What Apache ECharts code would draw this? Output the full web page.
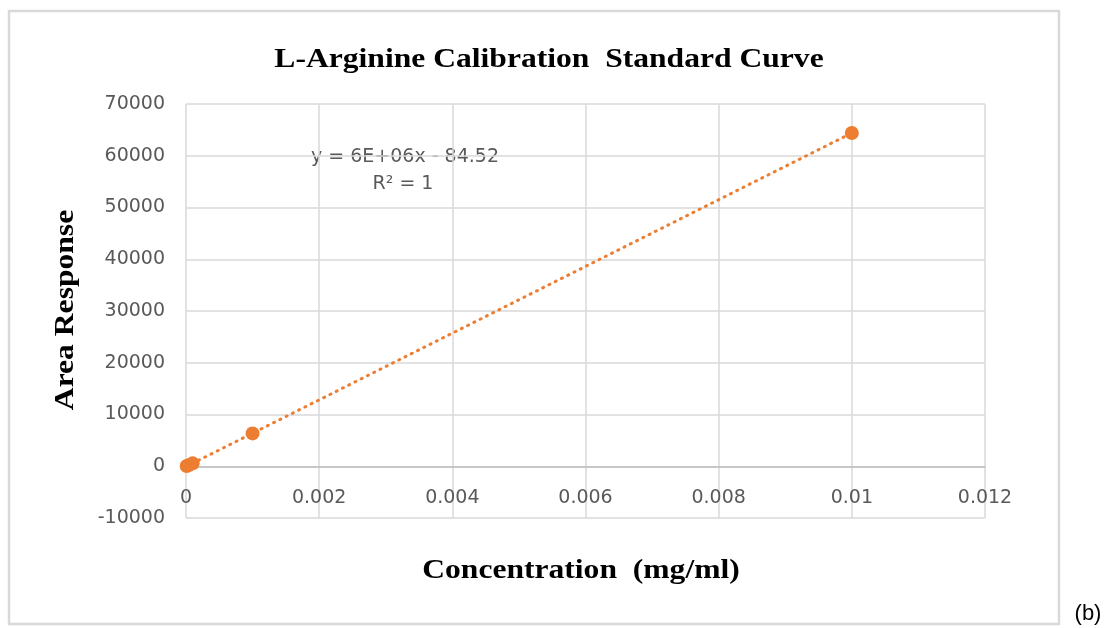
<!DOCTYPE html>
<html>
<head>
<meta charset="utf-8">
<script src="https://cdn.jsdelivr.net/npm/echarts@6/dist/echarts.min.js"></script>
<style>
html,body{margin:0;padding:0;background:#fff;}
#c{width:1104px;height:628px;}
</style>
</head>
<body>
<div id="c"></div>
<script>
const concentrations = [0.00001, 0.00005, 0.0001, 0.001, 0.01];
const responses = [40, 260, 560, 6350, 64400];
const xTicks = [0, 0.002, 0.004, 0.006, 0.008, 0.01, 0.012];
const yTicks = [-10000, 0, 10000, 20000, 30000, 40000, 50000, 60000, 70000];
const titleText = 'L-Arginine Calibration  Standard Curve';
const xName = 'Concentration  (mg/ml)';
const yName = 'Area Response';
const equationText = 'y = 6E+06x - 84.52';
const r2Text = 'R² = 1';

// least-squares trendline from the data
const n = concentrations.length;
let sx = 0, sy = 0, sxx = 0, sxy = 0;
for (let i = 0; i < n; i++) {
  sx += concentrations[i]; sy += responses[i];
  sxx += concentrations[i] * concentrations[i];
  sxy += concentrations[i] * responses[i];
}
const slope = (n * sxy - sx * sy) / (n * sxx - sx * sx);
const intercept = (sy - slope * sx) / n;
const trendX = [0, Math.max(...concentrations)];
const trendData = trendX.map(x => [x, slope * x + intercept]);

const chart = echarts.init(document.getElementById('c'), null, {renderer: 'canvas'});
const labelColor = '#595959';
const gridColor = '#d9d9d9';
const sans = '"DejaVu Sans"';
const serifBold = 'bold 27px "Liberation Serif"';
chart.setOption({
  animation: false,
  backgroundColor: '#fff',
  grid: {left: 186, right: 119, top: 104, bottom: 110, containLabel: false, outerBoundsMode: 'none'},
  xAxis: {
    type: 'value', min: xTicks[0], max: xTicks[xTicks.length - 1], interval: xTicks[1] - xTicks[0],
    axisLine: {show: true, onZero: true, lineStyle: {color: '#bfbfbf', width: 1.5}},
    axisTick: {show: false},
    axisLabel: {color: labelColor, fontFamily: sans, fontSize: 19, margin: -29,
      formatter: v => String(parseFloat(v.toFixed(4)))},
    splitLine: {show: true, lineStyle: {color: gridColor, width: 1.5}}
  },
  yAxis: {
    type: 'value', min: yTicks[0], max: yTicks[yTicks.length - 1], interval: yTicks[1] - yTicks[0],
    axisLine: {show: false},
    axisTick: {show: false},
    axisLabel: {color: labelColor, fontFamily: sans, fontSize: 19, margin: 21,
      formatter: v => String(v)},
    splitLine: {show: true, lineStyle: {color: gridColor, width: 1.5}}
  },
  series: [
    {
      type: 'line', data: trendData, showSymbol: false, symbol: 'none',
      lineStyle: {color: '#ED7D31', width: 3, type: [1, 6], cap: 'round'},
      z: 2, silent: true
    },
    {
      type: 'scatter', data: concentrations.map((x, i) => [x, responses[i]]),
      symbolSize: 14, itemStyle: {color: '#ED7D31', opacity: 1}, z: 3
    }
  ],
  graphic: [
    {type: 'rect', shape: {x: 9, y: 11, width: 1050, height: 613},
      style: {fill: 'none', stroke: '#d9d9d9', lineWidth: 2.5}, z: -1, silent: true},
    {type: 'text', x: 549, y: 60, scaleX: 1.17, style: {text: titleText, fill: '#000',
      font: serifBold, align: 'center', verticalAlign: 'middle'}},
    {type: 'text', x: 581, y: 571, scaleX: 1.17, style: {text: xName, fill: '#000',
      font: serifBold, align: 'center', verticalAlign: 'middle'}},
    {type: 'text', x: 66, y: 310, rotation: Math.PI / 2, scaleX: 1.17, style: {text: yName, fill: '#000',
      font: serifBold, align: 'center', verticalAlign: 'middle'}},
    {type: 'text', x: 405, y: 157, style: {text: equationText, fill: labelColor,
      font: '19px ' + sans, align: 'center', verticalAlign: 'middle'}},
    {type: 'text', x: 403, y: 184, style: {text: r2Text, fill: labelColor,
      font: '19px ' + sans, align: 'center', verticalAlign: 'middle'}},
    {type: 'text', x: 1088, y: 614, style: {text: '(b)', fill: '#000',
      font: '22px "Liberation Sans"', align: 'center', verticalAlign: 'middle'}}
  ]
});
</script>
</body>
</html>
